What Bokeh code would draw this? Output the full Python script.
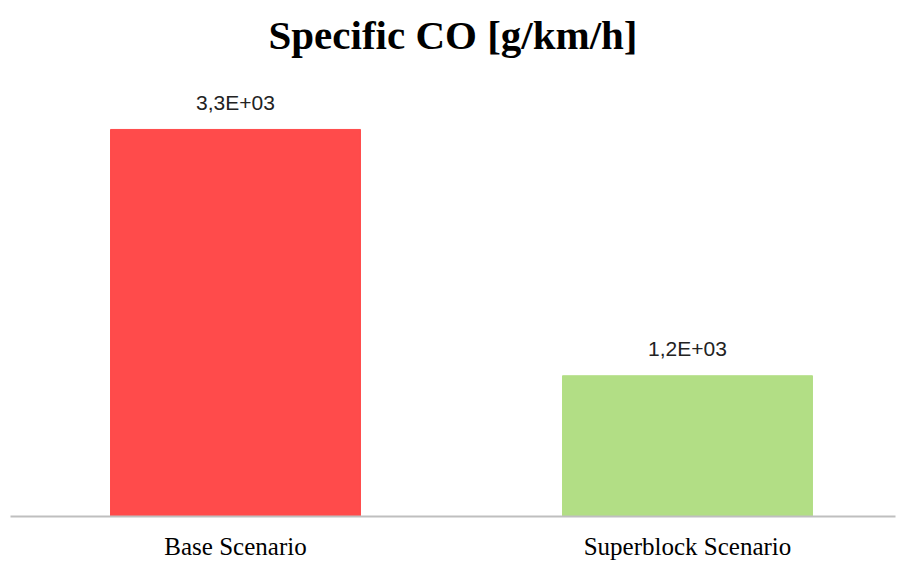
from bokeh.plotting import figure
from bokeh.models import ColumnDataSource, Range1d, FixedTicker
from bokeh.core.properties import value
from bokeh.embed import file_html
from bokeh.resources import INLINE

categories = ["Base Scenario", "Superblock Scenario"]
values = [3300, 1200]
labels = ["3,3E+03", "1,2E+03"]
colors = ["#FF4B4B", "#B2DE85"]

xs = [i + 0.5 for i in range(len(categories))]
src = ColumnDataSource(dict(x=xs, top=values, label=labels, color=colors))

p = figure(width=897, height=562, output_backend="svg", toolbar_location=None,
           x_range=Range1d(0.0022, 1.9602), y_range=Range1d(0, 3888),
           title="Specific CO [g/km/h]",
           min_border_left=10, min_border_right=2, min_border_top=60, min_border_bottom=46)

p.vbar(x="x", top="top", width=0.553, bottom=0, color="color", source=src)
p.text(x="x", y="top", text="label", source=src, text_align="center",
       text_baseline="alphabetic", y_offset=-27, text_font=value("Liberation Sans"),
       text_font_size="21px", text_color="#222222")

p.title.text_font = "Liberation Serif"
p.title.text_font_size = "41px"
p.title.text_font_style = "bold"
p.title.align = "center"
p.title.text_color = "#000000"
p.title.standoff = 6

p.yaxis.visible = False
p.xgrid.visible = False
p.ygrid.visible = False
p.outline_line_color = None

ax = p.xaxis[0]
ax.ticker = FixedTicker(ticks=xs)
ax.major_label_overrides = {x: c for x, c in zip(xs, categories)}
ax.axis_line_color = "#BFBFBF"
ax.axis_line_width = 2
ax.major_tick_line_color = None
ax.minor_tick_line_color = None
ax.major_tick_out = 0
ax.major_tick_in = 0
ax.major_label_standoff = 16
ax.major_label_text_font = "Liberation Serif"
ax.major_label_text_font_size = "25px"
ax.major_label_text_color = "#000000"

open("out.html", "w").write(file_html(p, INLINE))
